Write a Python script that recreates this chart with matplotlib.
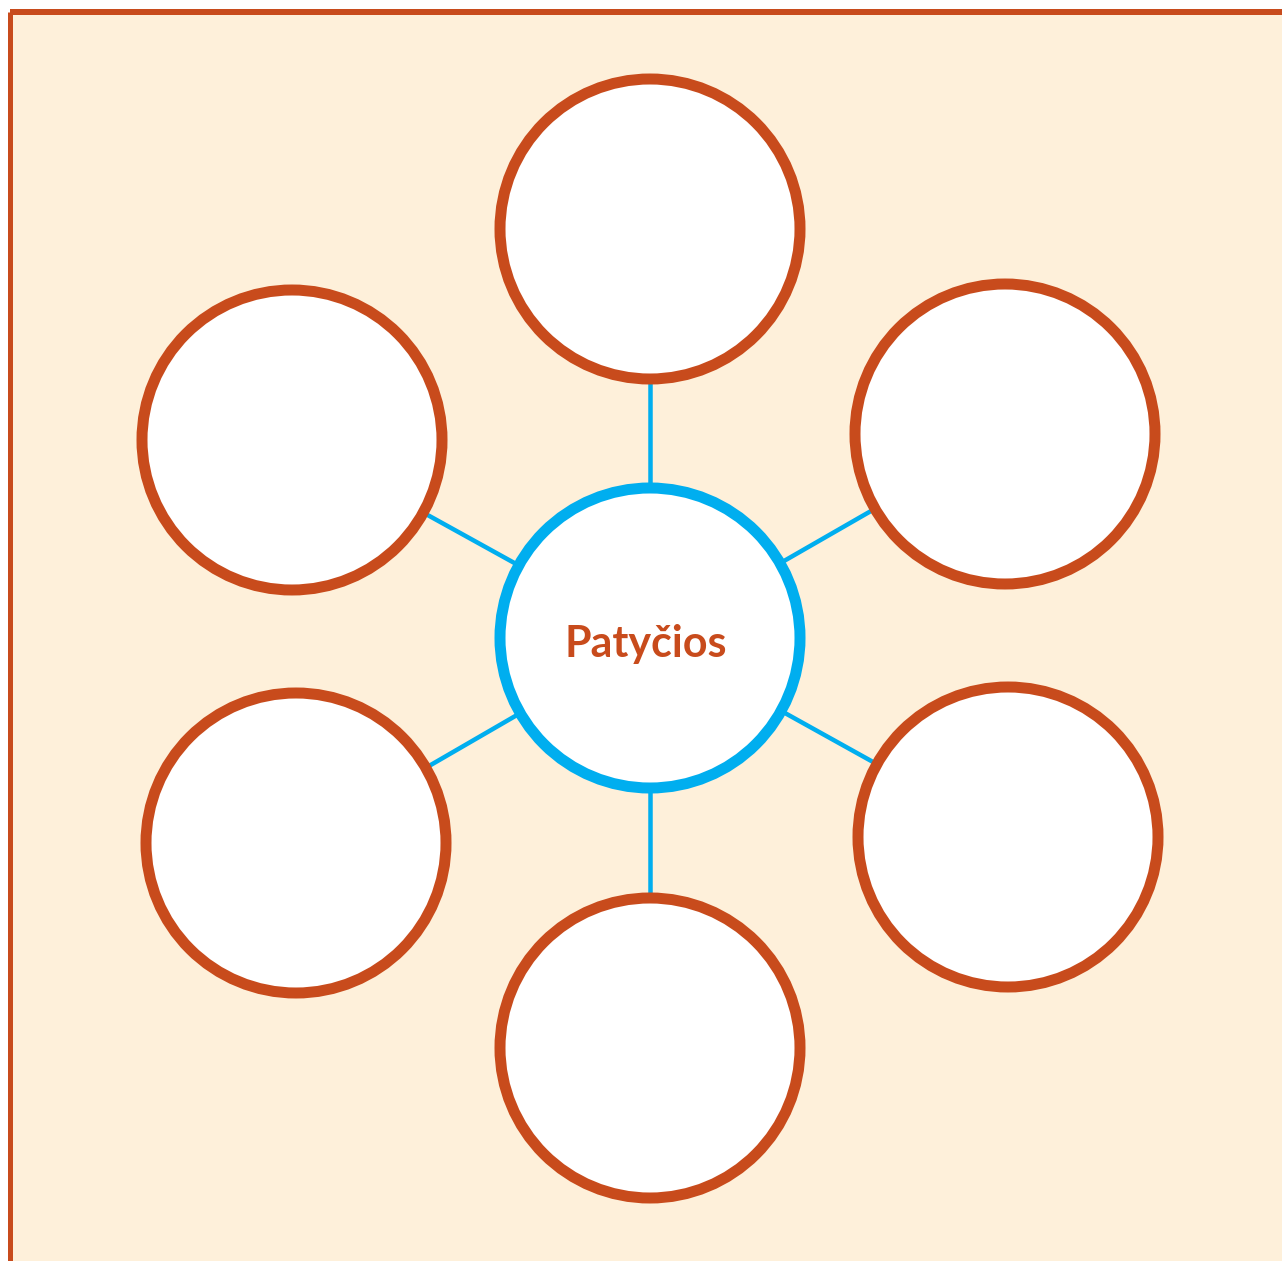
import matplotlib.pyplot as plt
from matplotlib.patches import Circle, Rectangle

W, H = 1282, 1261
center = (650, 638)
center_label = 'Patyčios'
node_x = [650, 1005, 1008, 650, 296, 292]
node_y = [229, 434, 837, 1048, 843, 440]
radius = 150

orange = '#c84b1c'
blue = '#00aeef'
cream = '#fef0da'

fig = plt.figure(figsize=(W / 100, H / 100), dpi=100)
ax = fig.add_axes([0, 0, 1, 1])
ax.set_xlim(0, W)
ax.set_ylim(H, 0)
ax.axis('off')

px = 72 / 100  # pixels -> points

# background panel with top and left border
ax.add_patch(Rectangle((10, 12), W, H, facecolor=cream, edgecolor='none', zorder=0))
ax.plot([10, W], [12, 12], color=orange, lw=6 * px, solid_capstyle='butt', zorder=1)
ax.plot([10, 10], [12, H], color=orange, lw=5 * px, solid_capstyle='butt', zorder=1)

# connectors
for x, y in zip(node_x, node_y):
    ax.plot([center[0], x], [center[1], y], color=blue, lw=4.5 * px, zorder=2)

# outer nodes
for x, y in zip(node_x, node_y):
    ax.add_patch(Circle((x, y), radius, facecolor='white', edgecolor=orange,
                        lw=11 * px, zorder=3))

# center node
ax.add_patch(Circle(center, radius, facecolor='white', edgecolor=blue,
                    lw=11 * px, zorder=3))
ax.text(center[0] - 4, center[1] + 6, center_label, color=orange, fontsize=31,
        fontweight='bold', family=['Lato', 'DejaVu Sans'], ha='center', va='center', zorder=4)

fig.savefig('out.png', dpi=100)
